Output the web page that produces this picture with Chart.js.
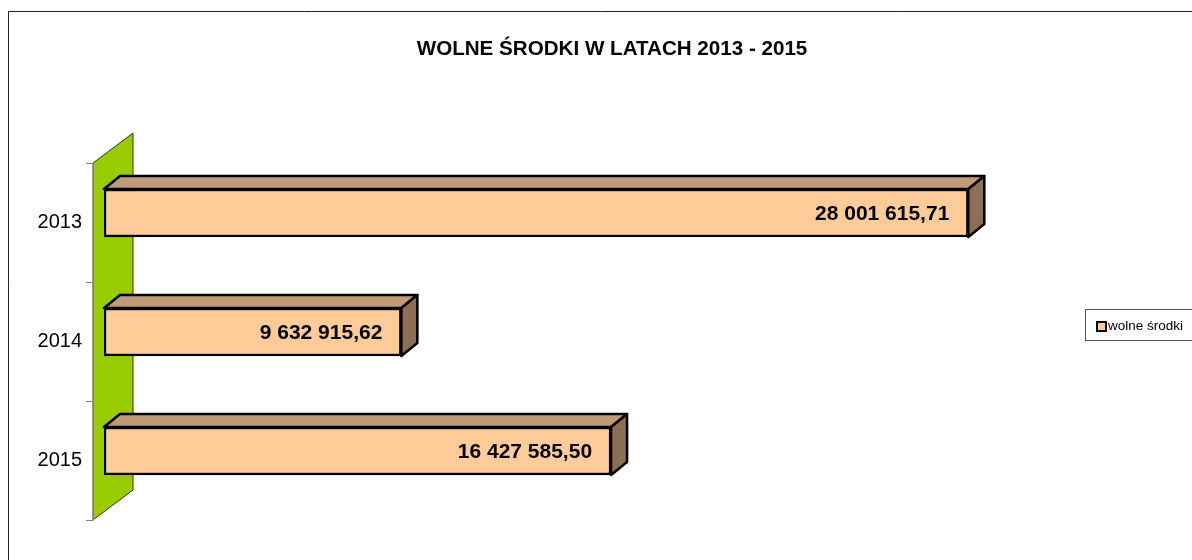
<!DOCTYPE html>
<html>
<head>
<meta charset="utf-8">
<title>Wolne środki w latach 2013 - 2015</title>
<script src="https://cdn.jsdelivr.net/npm/chart.js@4/dist/chart.umd.min.js"></script>
<style>
    body { margin: 0; background: #fff; }
    #wrap { width: 1192px; height: 560px; position: relative; }
</style>
</head>
<body>
<div id="wrap"><canvas id="fundsChart" width="1192" height="560"></canvas></div>
<script>
const years = ['2013', '2014', '2015'];
const freeFunds = [28001615.71, 9632915.62, 16427585.50];
const seriesName = 'wolne środki';
const chartTitle = 'WOLNE ŚRODKI W LATACH 2013 - 2015';

const FONT = '"Liberation Sans", Arial, sans-serif';

// depth of the 3D look
const WALL_DX = 40, WALL_DY = -30;
const WALL_SHIFT_X = -11, WALL_SHIFT_Y = 9.5;
const BAR_DX = 16, BAR_DY = -13;

function formatPl(n) {
    const parts = n.toFixed(2).split('.');
    const whole = parts[0].replace(/\B(?=(\d{3})+(?!\d))/g, ' ');
    return whole + ',' + parts[1];
}

const chartDeco = {
    id: 'chartDeco',
    beforeDraw(chart) {
        const c = chart.ctx;
        c.save();
        // outer frame
        c.strokeStyle = '#222';
        c.lineWidth = 1;
        c.beginPath();
        c.moveTo(8.5, 560);
        c.lineTo(8.5, 11.5);
        c.lineTo(1192, 11.5);
        c.stroke();

        // title
        c.fillStyle = '#000';
        c.font = 'bold 20.6px ' + FONT;
        c.textAlign = 'center';
        c.textBaseline = 'middle';
        c.fillText(chartTitle, 612, 49.5);
        c.restore();
    },
    beforeDatasetsDraw(chart) {
        const c = chart.ctx;
        const a = chart.chartArea;
        const fx = a.left + WALL_SHIFT_X;
        const ft = a.top + WALL_SHIFT_Y;
        const fb = a.bottom + WALL_SHIFT_Y;
        c.save();
        // green wall
        c.fillStyle = '#99CC00';
        c.beginPath();
        c.moveTo(fx, ft);
        c.lineTo(fx + WALL_DX, ft + WALL_DY);
        c.lineTo(fx + WALL_DX, fb + WALL_DY);
        c.lineTo(fx, fb);
        c.closePath();
        c.fill();
        c.strokeStyle = '#333';
        c.lineWidth = 1;
        c.stroke();
        // axis line + ticks on the wall front
        c.strokeStyle = '#808080';
        c.beginPath();
        c.moveTo(fx + 0.5, ft);
        c.lineTo(fx + 0.5, fb);
        const step = (fb - ft) / years.length;
        for (let i = 0; i <= years.length; i++) {
            const y = Math.round(ft + i * step) + 0.5;
            c.moveTo(fx - 7, y);
            c.lineTo(fx + 0.5, y);
        }
        c.stroke();
        c.restore();
    },
    afterDatasetsDraw(chart) {
        const c = chart.ctx;
        const meta = chart.getDatasetMeta(0);
        c.save();
        c.lineWidth = 2.5;
        c.lineJoin = 'round';
        c.strokeStyle = '#000';
        meta.data.forEach((bar, i) => {
            const p = bar.getProps(['x', 'y', 'base', 'height'], true);
            const x0 = p.base, x1 = p.x;
            const y0 = p.y - p.height / 2, y1 = p.y + p.height / 2;
            // top face
            c.fillStyle = '#C19A78';
            c.beginPath();
            c.moveTo(x0, y0);
            c.lineTo(x0 + BAR_DX, y0 + BAR_DY);
            c.lineTo(x1 + BAR_DX, y0 + BAR_DY);
            c.lineTo(x1, y0);
            c.closePath();
            c.fill();
            c.stroke();
            // side face
            c.fillStyle = '#8C6F55';
            c.beginPath();
            c.moveTo(x1, y0);
            c.lineTo(x1 + BAR_DX, y0 + BAR_DY);
            c.lineTo(x1 + BAR_DX, y1 + BAR_DY);
            c.lineTo(x1, y1);
            c.closePath();
            c.fill();
            c.stroke();

            // value label
            c.fillStyle = '#000';
            c.font = 'bold 21px ' + FONT;
            c.textAlign = 'right';
            c.textBaseline = 'middle';
            c.fillText(formatPl(freeFunds[i]), x1 - 19, p.y + 1);
        });
        c.restore();
    },
    afterDraw(chart) {
        const c = chart.ctx;
        c.save();
        // legend box
        c.strokeStyle = '#555';
        c.lineWidth = 1;
        c.strokeRect(1085.5, 309.5, 108, 31);
        c.fillStyle = '#FFCC99';
        c.fillRect(1097, 322, 9, 9);
        c.strokeStyle = '#000';
        c.lineWidth = 2;
        c.strokeRect(1097, 322, 9, 9);
        c.fillStyle = '#000';
        c.font = '13.5px ' + FONT;
        c.textAlign = 'left';
        c.textBaseline = 'middle';
        c.fillText(seriesName, 1108, 326.5);
        c.restore();
    }
};

new Chart(document.getElementById('fundsChart'), {
    type: 'bar',
    data: {
        labels: years,
        datasets: [{
            label: seriesName,
            data: freeFunds,
            backgroundColor: '#FFCC99',
            borderColor: '#000',
            borderWidth: 2.5,
            borderSkipped: false,
            barThickness: 48
        }]
    },
    options: {
        indexAxis: 'y',
        responsive: false,
        devicePixelRatio: 1,
        animation: false,
        layout: {
            padding: { left: 0, right: 162, top: 153.5, bottom: 49.5 }
        },
        plugins: {
            legend: { display: false },
            title: { display: false },
            tooltip: { enabled: false }
        },
        scales: {
            x: {
                display: false,
                min: 0,
                max: 30000000
            },
            y: {
                grid: { display: false, drawTicks: false },
                border: { display: false },
                afterFit(scale) { scale.width = 104; },
                ticks: {
                    color: '#000',
                    padding: 22,
                    labelOffset: 9,
                    font: { family: FONT, size: 20 }
                }
            }
        }
    },
    plugins: [chartDeco]
});
</script>
</body>
</html>
